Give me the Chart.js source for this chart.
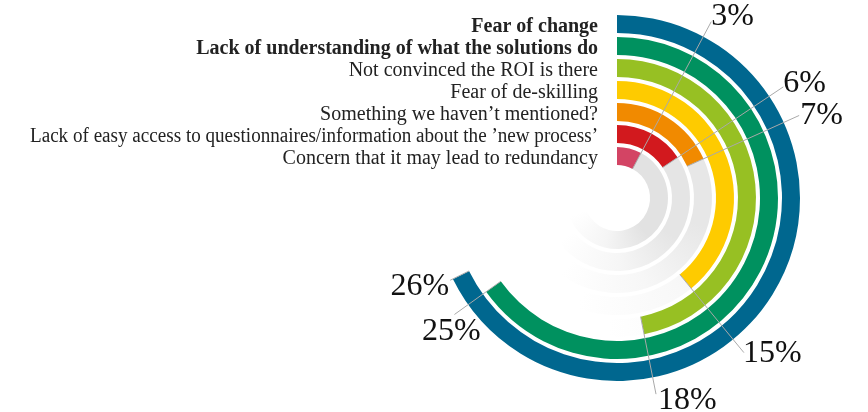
<!DOCTYPE html>
<html>
<head>
<meta charset="utf-8">
<script src="https://cdn.jsdelivr.net/npm/chart.js@4.4.1/dist/chart.umd.min.js"></script>
<style>
  html, body { margin: 0; padding: 0; background: #ffffff; }
  #wrap { position: relative; width: 868px; height: 412px; }
</style>
</head>
<body>
<div id="wrap"><canvas id="chart"></canvas></div>
<script>
// Survey answers, outermost ring first
const categories = [
  'Fear of change',
  'Lack of understanding of what the solutions do',
  'Not convinced the ROI is there',
  'Fear of de-skilling',
  'Something we haven\u2019t mentioned?',
  'Lack of easy access to questionnaires/information about the \u2019new process\u2019',
  'Concern that it may lead to redundancy'
];
const values = [26, 25, 18, 15, 7, 6, 3];
const valueLabels = ['26%', '25%', '18%', '15%', '7%', '6%', '3%'];
const boldCategories = [true, true, false, false, false, false, false];
const ringColors = ['#00678f', '#00915f', '#97c023', '#fecb00', '#f18a00', '#d2191e', '#d34464'];

// Share of respondents that corresponds to one full turn of a ring
const FULL_TURN = 38.4;

// Where each value label sits relative to the end of its leader line
const valuePlacement = [
  { r: 186, align: 'right',  dx: -1, dy: 15 },
  { r: 200, align: 'center', dx: -3, dy: 26 },
  { r: 200, align: 'left',   dx: 2,  dy: 15 },
  { r: 200, align: 'left',   dx: -1, dy: 9 },
  { r: 200, align: 'left',   dx: 1,  dy: 9 },
  { r: 200, align: 'left',   dx: 0,  dy: 5 },
  { r: 200, align: 'left',   dx: 0,  dy: 3 }
];

// Grey track behind each ring; inner tracks stay grey further round the dial
const trackCache = {};
function trackFill(chart, ring) {
  const a = chart.chartArea;
  if (!a) return '#ffffff';
  const cx = (a.left + a.right) / 2, cy = (a.top + a.bottom) / 2;
  const key = ring + ':' + cx + ',' + cy;
  if (trackCache[key]) return trackCache[key];
  const end = 0.42 + ring * 0.045;
  const start = end - 0.3;
  const level = Math.round(226 + (6 - ring) * 2.5);
  const grey = (l) => 'rgb(' + l + ',' + l + ',' + l + ')';
  const g = chart.ctx.createConicGradient(-Math.PI / 2, cx, cy);
  g.addColorStop(0, grey(level));
  g.addColorStop(start, grey(level));
  g.addColorStop(start + (end - start) * 0.5, grey(Math.round(level + (255 - level) * 0.65)));
  g.addColorStop(end, '#ffffff');
  g.addColorStop(1, '#ffffff');
  trackCache[key] = g;
  return g;
}

const datasets = [];
values.forEach((v, i) => {
  if (i > 0) {
    datasets.push({ data: [1], backgroundColor: ['rgba(0,0,0,0)'], borderWidth: 0, weight: 4 });
  }
  datasets.push({
    data: [v, FULL_TURN - v],
    backgroundColor: (ctx) => ctx.dataIndex === 0 ? ringColors[i] : trackFill(ctx.chart, i),
    borderWidth: 0,
    weight: 18,
    ringIndex: i
  });
});

const ringAnnotations = {
  id: 'ringAnnotations',
  afterDatasetsDraw(chart) {
    const ctx = chart.ctx;
    ctx.save();
    chart.data.datasets.forEach((ds, di) => {
      if (ds.ringIndex === undefined) return;
      const i = ds.ringIndex;
      const arc = chart.getDatasetMeta(di).data[0];
      const { x, y, endAngle, innerRadius } =
        arc.getProps(['x', 'y', 'endAngle', 'innerRadius'], true);

      // category name beside the start of the ring
      ctx.font = (boldCategories[i] ? 'bold ' : '') + '20px "Liberation Serif", serif';
      ctx.fillStyle = '#222222';
      ctx.textAlign = 'right';
      ctx.textBaseline = 'alphabetic';
      ctx.fillText(categories[i], x - 19, y - innerRadius - 1, x - 19 - 30);

      // leader line from the end of the bar
      const p = valuePlacement[i];
      const cos = Math.cos(endAngle), sin = Math.sin(endAngle);
      const ex = x + cos * p.r, ey = y + sin * p.r;
      ctx.beginPath();
      ctx.moveTo(x + cos * innerRadius, y + sin * innerRadius);
      ctx.lineTo(ex, ey);
      ctx.strokeStyle = '#a9a9a9';
      ctx.lineWidth = 1;
      ctx.stroke();

      // value label
      ctx.font = '32px "Liberation Serif", serif';
      ctx.fillStyle = '#111111';
      ctx.textAlign = p.align;
      ctx.textBaseline = 'alphabetic';
      ctx.fillText(valueLabels[i], ex + p.dx, ey + p.dy);
    });
    ctx.restore();
  }
};

new Chart(document.getElementById('chart'), {
  type: 'doughnut',
  data: { labels: ['value', 'rest'], datasets },
  options: {
    responsive: true,
    maintainAspectRatio: false,
    animation: false,
    cutout: 33,
    rotation: 0,
    circumference: 360,
    layout: { padding: { left: 434, right: 68, top: 15, bottom: 31 } },
    events: [],
    plugins: {
      legend: { display: false },
      tooltip: { enabled: false }
    }
  },
  plugins: [ringAnnotations]
});
</script>
</body>
</html>
